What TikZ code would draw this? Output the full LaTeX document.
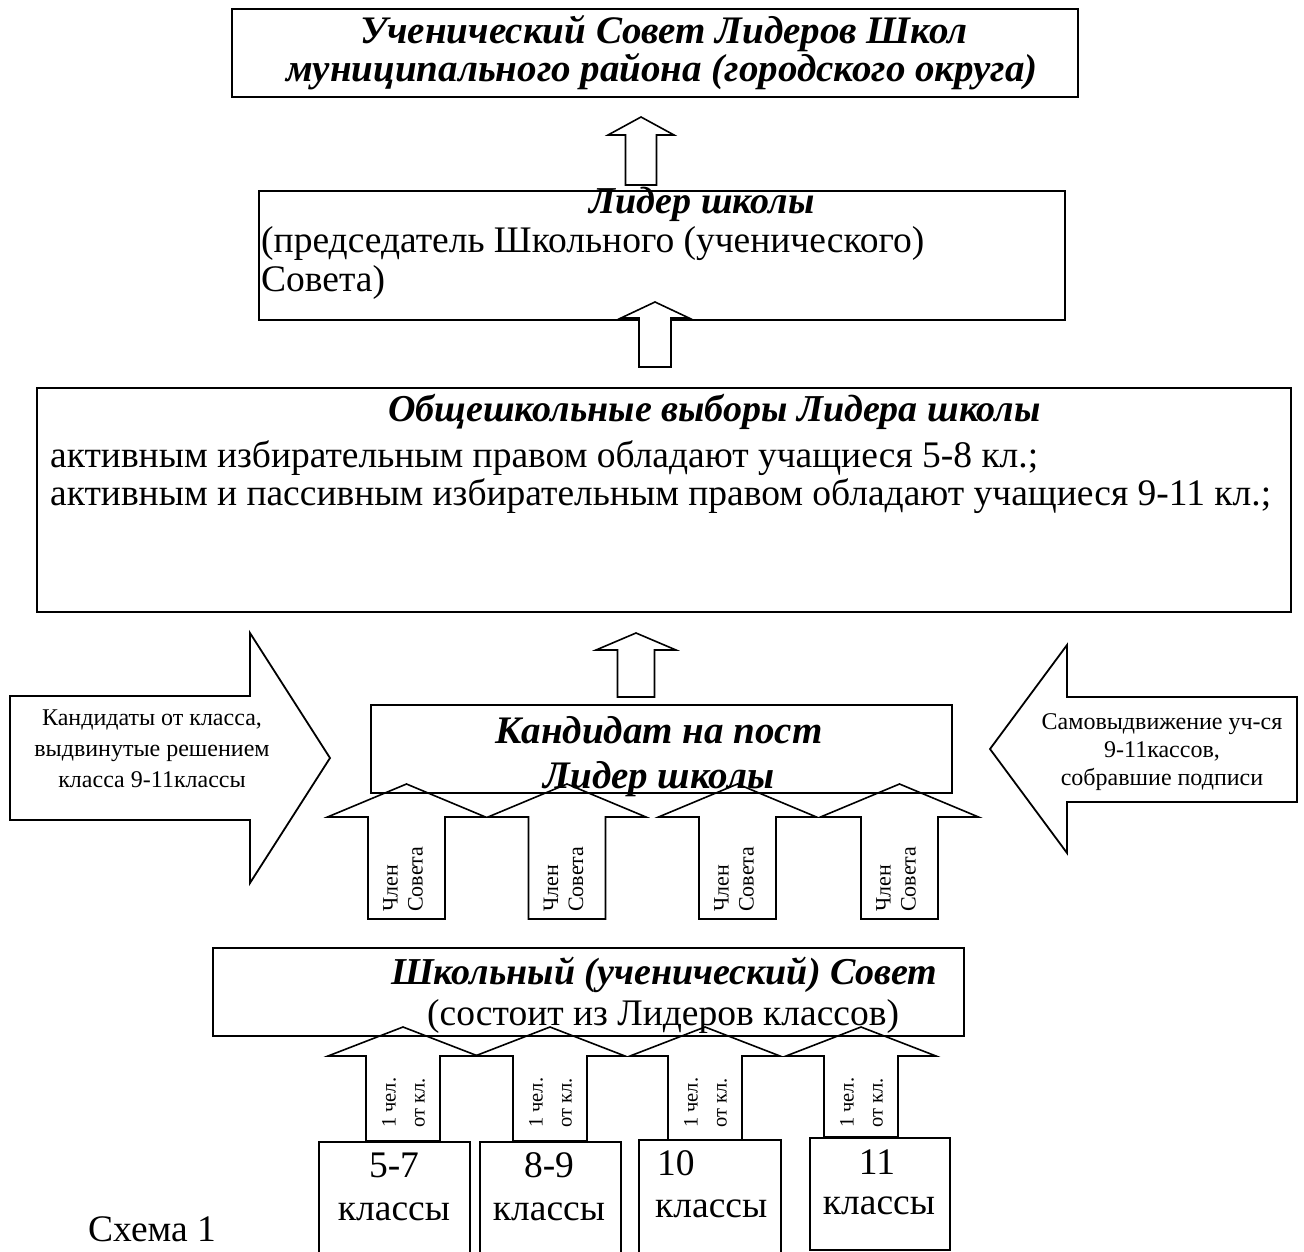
\documentclass[tikz,border=0pt]{standalone}
\usepackage{fontspec}
\setmainfont{Liberation Serif}
\newcommand\UpArr[8]{% style, name, cx, apex, base, bottom, head half width, shaft half width
  \draw[#1] (#3-#7,#5) -- (#3,#4) -- (#3+#7,#5) -- (#3+#8,#5) -- (#3+#8,#6)
     -- (#3-#8,#6) -- (#3-#8,#5) -- cycle;
  \coordinate (#2) at (#3,#6);
}
\begin{document}
\begin{tikzpicture}[x=1pt,y=-1pt,
  box/.style={draw, line width=2pt, inner sep=0pt},
  blk/.style={draw, line width=1.6pt, line join=miter},
  blkw/.style={draw, fill=white, line width=1.6pt, line join=miter},
  side/.style={draw, fill=white, line width=1.8pt, line join=miter},
  txt/.style={inner sep=0pt, font=\fontsize{37.5}{40}\selectfont},
  ttl/.style={inner sep=0pt, font=\fontsize{38}{42}\selectfont\bfseries\itshape},
  ttlb/.style={inner sep=0pt, font=\fontsize{39}{42}\selectfont\bfseries\itshape},
  small/.style={inner sep=0pt, align=center, font=\fontsize{24}{31}\selectfont},
  rot/.style={inner sep=0pt, align=left, rotate=90, anchor=west, font=\fontsize{22}{25}\selectfont},
  rots/.style={inner sep=0pt, align=left, rotate=90, anchor=west, font=\fontsize{20.5}{29}\selectfont}]
\useasboundingbox (0,0) rectangle (1304,1252);
\fill[white] (0,0) rectangle (1304,1252);

% top box
\node[box, anchor=north west, minimum width=846pt, minimum height=88pt] (council) at (231,8) {};
\node[ttlb, anchor=base] (councilA) at (664,44) {Ученический Совет Лидеров Школ};
\node[ttlb, anchor=base] (councilB) at (662,82) {муниципального района (городского округа)};
\UpArr{blk}{a1}{641}{117}{135}{185}{33}{15.5}

% leader box
\node[box, anchor=north west, minimum width=806pt, minimum height=129pt] (leader) at (258,190) {};
\node[ttl, anchor=base] (leaderA) at (702,214) {Лидер школы};
\node[txt, anchor=base west] (leaderB) at (261,253) {(председатель Школьного (ученического)};
\node[txt, anchor=base west] (leaderC) at (261,291) {Совета)};
\UpArr{blkw}{a2}{655}{302}{318}{367}{34}{16}

% elections box
\node[box, anchor=north west, minimum width=1254pt, minimum height=224pt] (elect) at (36,387) {};
\node[ttl, anchor=base west] (electA) at (388,421) {Общешкольные выборы Лидера школы};
\node[txt, anchor=base west] (electB) at (50,467) {активным избирательным правом обладают учащиеся 5-8 кл.;};
\node[txt, anchor=base west] (electC) at (50,505) {активным и пассивным избирательным правом обладают учащиеся 9-11 кл.;};
\UpArr{blk}{a3}{636}{633}{650}{697}{40}{18.5}

% side arrows
\draw[side] (10,696) -- (250,696) -- (250,633) -- (330,758) -- (250,883) -- (250,820) -- (10,820) -- cycle;
\node[small] (leftTxt) at (152,749) {Кандидаты от класса,\\выдвинутые решением\\класса 9-11классы};
\draw[side] (1297,697) -- (1067,697) -- (1067,645) -- (990,749) -- (1067,853) -- (1067,802) -- (1297,802) -- cycle;
\node[small, font=\fontsize{24}{28}\selectfont] (rightTxt) at (1162,752) {Самовыдвижение уч-ся\\9-11кассов,\\собравшие подписи};

% candidate box
\node[box, anchor=north west, minimum width=581pt, minimum height=88pt] (cand) at (370,704) {};
\UpArr{blk}{m1}{406.5}{784}{817}{919}{79}{38.5}
\UpArr{blk}{m2}{567}{784}{817}{919}{79}{38.5}
\UpArr{blk}{m3}{737.5}{784}{817}{919}{79}{38.5}
\UpArr{blk}{m4}{899.5}{784}{817}{919}{79}{38.5}
\node[ttlb, anchor=base] (candA) at (659,743) {Кандидат на пост};
\node[ttlb, anchor=base] (candB) at (659,788) {Лидер школы};
\node[rot] (r1) at (403,912) {Член\\Совета};
\node[rot] (r2) at (563.5,912) {Член\\Совета};
\node[rot] (r3) at (734,912) {Член\\Совета};
\node[rot] (r4) at (896,912) {Член\\Совета};

% school council box
\node[box, anchor=north west, minimum width=751pt, minimum height=88pt] (school) at (212,947) {};
\UpArr{blk}{s1}{403}{1027}{1056}{1141}{75}{37}
\UpArr{blk}{s2}{550}{1027}{1056}{1141}{75}{37}
\UpArr{blk}{s3}{705}{1027}{1056}{1140}{75}{37}
\UpArr{blk}{s4}{861}{1027}{1056}{1137}{75}{37}
\node[ttl, anchor=base west] (schoolA) at (391,984) {Школьный (ученический) Совет};
\node[txt, anchor=base west] (schoolB) at (427,1025) {(состоит из Лидеров классов)};
\node[rots] (q1) at (403.5,1128) {1 чел.\\от кл.};
\node[rots] (q2) at (550.5,1128) {1 чел.\\от кл.};
\node[rots] (q3) at (705.5,1128) {1 чел.\\от кл.};
\node[rots] (q4) at (861.5,1128) {1 чел.\\от кл.};

% class boxes
\draw[line width=2pt] (319,1270) -- (319,1142) -- (470,1142) -- (470,1270);
\draw[line width=2pt] (480,1270) -- (480,1142) -- (621,1142) -- (621,1270);
\draw[line width=2pt] (639,1270) -- (639,1140) -- (781,1140) -- (781,1270);
\node[box, anchor=north west, minimum width=140pt, minimum height=112pt] (c4) at (809,1137) {};
\node[txt, anchor=base] (c1a) at (394,1177) {5-7};
\node[txt, anchor=base] (c1b) at (394,1220) {классы};
\node[txt, anchor=base] (c2a) at (549,1177) {8-9};
\node[txt, anchor=base] (c2b) at (549,1220) {классы};
\node[txt, anchor=base west] (c3a) at (657,1175) {10};
\node[txt, anchor=base west] (c3b) at (655,1217) {классы};
\node[txt, anchor=base] (c4a) at (877,1174) {11};
\node[txt, anchor=base] (c4b) at (879,1214) {классы};

\node[txt, anchor=base west] (caption) at (88,1241) {Схема 1};
\end{tikzpicture}
\end{document}
